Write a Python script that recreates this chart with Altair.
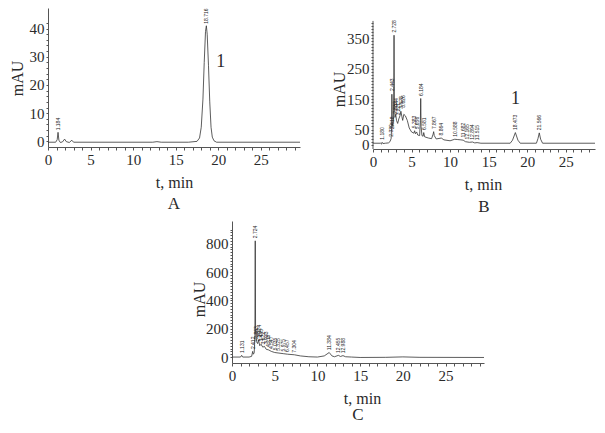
import altair as alt
import pandas as pd

# ---------------- data ----------------
# Panel A (reference standard)
tA = [0, 0.9, 1.08, 1.18, 1.28, 1.45, 1.7, 1.95, 2.15, 2.5, 2.8, 3.0, 12.3, 12.8, 13.3, 16.5,
      17.5, 17.8, 18.0, 18.2, 18.35, 18.5, 18.6, 18.7, 18.85, 19.0, 19.15, 19.3, 19.5, 19.8, 29.6]
vA = [-0.3, -0.3, 0.6, 3.2, 0.4, -0.4, -0.2, 0.8, -0.1, -0.4, 0.4, -0.3, -0.3, -0.1, -0.3, -0.3,
      0.0, 1.2, 5, 15, 28, 39, 41, 38, 27, 14, 5, 1.5, 0.2, -0.3, -0.3]
peakA_t = [1.18, 18.6]
peakA_v = [3.2, 41]
peakA_lab = ["1.184", "18.716"]

# Panel B (sample)
tB = [0, 1.0, 1.12, 1.18, 1.3, 1.6, 2.0, 2.2, 2.35, 2.42, 2.45, 2.5, 2.58, 2.65, 2.7, 2.73, 2.77,
      2.85, 2.95, 3.05, 3.2, 3.35, 3.5, 3.62, 3.75, 3.85, 4.0, 4.2, 4.45, 4.7, 5.0, 5.3, 5.4, 5.5,
      5.66, 5.8, 6.05, 6.15, 6.19, 6.24, 6.35, 6.5, 6.58, 6.7, 7.2, 7.6, 7.8, 7.87, 7.95, 8.2, 8.86,
      9.2, 10.0, 10.6, 11.0, 11.4, 11.7, 12.0, 12.5, 12.9, 13.2, 13.5, 14.0, 17.8, 18.1, 18.47, 18.8,
      19.1, 21.2, 21.4, 21.57, 21.75, 22.0, 28.8]
vB = [5, 5, 2, 8, 4, 5, 6, 10, 20, 60, 166, 70, 60, 80, 200, 360, 150,
      90, 100, 80, 70, 85, 95, 110, 92, 80, 100, 95, 80, 55, 42, 38, 46, 36,
      42, 32, 30, 80, 152, 60, 30, 28, 40, 26, 22, 20, 35, 43, 30, 19, 22,
      16, 13, 18, 17, 16, 15, 10, 8, 9, 6, 7, 5, 5, 15, 40, 15,
      5, 5, 20, 39, 18, 5, 5]
peakB_t = [1.18, 2.34, 2.42, 2.45, 2.73, 2.85, 2.95, 3.25, 3.62, 3.85, 5.38, 5.66, 6.19, 6.58,
           7.87, 8.86, 10.6, 11.7, 12.17, 12.9, 13.5, 18.47, 21.57]
peakB_v = [10, 20, 45, 170, 362, 95, 105, 90, 112, 115, 48, 44, 154, 42,
           45, 24, 20, 17, 11, 10, 8, 42, 41]
peakB_lab = ["1.180", "2.339", "2.418", "2.443", "2.728", "2.832", "2.944", "3.221", "3.628",
             "3.826", "5.383", "5.656", "6.184", "6.581", "7.867", "8.864", "10.588", "11.682",
             "12.165", "12.894", "13.515", "18.473", "21.566"]

# Panel C (blank / other)
tC = [0, 1.0, 1.13, 1.25, 2.0, 2.3, 2.42, 2.5, 2.6, 2.68, 2.72, 2.76, 2.85, 3.0, 3.1, 3.25, 3.4,
      3.6, 3.8, 4.0, 4.3, 4.6, 5.0, 5.5, 6.0, 6.5, 7.3, 8.0, 9.0, 10.0, 10.8, 11.38, 11.7, 12.0,
      12.45, 12.7, 12.99, 13.3, 14.0, 15.0, 18.0, 20.0, 22.0, 29.5]
vC = [0, 0, 12, 0, 0, 5, 40, 20, 30, 150, 820, 200, 110, 95, 120, 80, 90,
      70, 75, 55, 50, 40, 32, 28, 24, 20, 16, 8, 2, 0, 8, 32, 8, 2,
      12, 4, 10, 2, 0, -3, -2, 1, -2, -3]
peakC_t = [1.13, 2.42, 2.72, 2.86, 2.99, 3.12, 3.43, 3.67, 3.93, 4.2, 4.55, 5.03, 5.33, 5.98,
           6.46, 7.3, 11.38, 12.45, 12.99]
peakC_v = [14, 42, 825, 115, 100, 125, 95, 75, 78, 56, 42, 34, 30, 25, 21, 17, 34, 14, 12]
peakC_lab = ["1.131", "2.412", "2.724", "2.863", "2.987", "3.124", "3.435", "3.672", "3.933",
             "4.218", "4.547", "5.035", "5.325", "5.975", "6.457", "7.304", "11.384", "12.455",
             "12.988"]

# axis tick marks and labelled ticks
xlabs = [0, 5, 10, 15, 20, 25]
yticksA = list(range(0, 43, 2))
ylabsA = [0, 10, 20, 30, 40]
yticksB = list(range(0, 401, 10))
ylabsB = [0, 50, 150, 250, 350]
yticksC = list(range(0, 901, 20))
ylabsC = [0, 200, 400, 600, 800]

# compound annotation "1"
ann_A = {"t": [20.3], "v": [28], "s": ["1"]}
ann_B = {"t": [18.5], "v": [150], "s": ["1"]}

SERIF = "Liberation Serif"
INK = "#2a2a2a"


def lab_expr(vals):
    return "indexof([" + ",".join(str(v) for v in vals) + "], datum.value) >= 0 ? datum.label : ''"


def panel(t, v, pt, pv, plab, xdom, ydom, w, h, yticks, ylabs, ytitlex, ytitley,
          xtitlex, xtitley, letter, letter_off, ann=None, axisline=None):
    trace = pd.DataFrame({"t": t, "v": v})
    peaks = pd.DataFrame({"t": pt, "v": pv, "lab": plab})
    xscale = alt.Scale(domain=xdom, nice=False, zero=False)
    yscale = alt.Scale(domain=ydom, nice=False, zero=False)
    xaxis = alt.Axis(values=list(range(0, int(xdom[1]) + 1)), labelExpr=lab_expr(xlabs),
                     tickSize=3, labelFlush=False, labelOverlap=False, grid=False,
                     title="t, min", titleX=xtitlex, titleY=xtitley, titleBaseline="middle",
                     titleAlign="center")
    yaxis = alt.Axis(values=yticks, labelExpr=lab_expr(ylabs), tickSize=2,
                     labelOverlap=False, labelFlush=False, grid=False, title="mAU",
                     titleX=ytitlex, titleY=ytitley, titleBaseline="middle",
                     titleAlign="center", titleAngle=270, domain=axisline is None)
    X = alt.X("t:Q", scale=xscale, axis=xaxis)
    Y = alt.Y("v:Q", scale=yscale, axis=yaxis)
    line = alt.Chart(trace).mark_line(color="#333333", strokeWidth=0.8).encode(x=X, y=Y)
    labels = alt.Chart(peaks).mark_text(
        angle=270, align="left", baseline="middle", dx=2, fontSize=5,
        font="Liberation Sans", color="#222222"
    ).encode(x=X, y=Y, text="lab:N")
    layers = [line, labels]
    if ann is not None:
        a = pd.DataFrame(ann)
        layers.append(alt.Chart(a).mark_text(font=SERIF, fontSize=18, color=INK).encode(
            x=X, y=Y, text="s:N"))
    if axisline is not None:
        r = pd.DataFrame({"t": [0.0], "v": [axisline[0]], "v1": [axisline[1]]})
        layers.append(alt.Chart(r).mark_rule(color="#555555", strokeWidth=1).encode(
            x=X, y=Y, y2="v1:Q"))
    return alt.layer(*layers).properties(
        width=w, height=h,
        title=alt.TitleParams(letter, orient="bottom", anchor="middle", font=SERIF,
                              fontSize=17, fontWeight="normal", color=INK,
                              offset=letter_off),
    )


A = panel(tA, vA, peakA_t, peakA_v, peakA_lab, [0, 29.6], [-2, 47.3], 252, 139,
          yticksA, ylabsA, -31, 70, 126, 35, "A", 6, ann=ann_A)
B = panel(tB, vB, peakB_t, peakB_v, peakB_lab, [0, 28.8], [-14, 449.5], 222, 141,
          yticksB, ylabsB, -34, 81, 110, 35, "B", 7, ann=ann_B, axisline=[-14, 407])
C = panel(tC, vC, peakC_t, peakC_v, peakC_lab, [0, 29.5], [-42, 960], 252, 142,
          yticksC, ylabsC, -33, 78, 130, 35, "C", 1)

spacer = alt.Chart(pd.DataFrame({"a": [0]})).mark_point(opacity=0).encode(
    x=alt.value(0), y=alt.value(0)).properties(width=143, height=10)

row1 = alt.hconcat(A, B, spacing=29)
row2 = alt.hconcat(spacer, C, spacing=0)
chart = alt.vconcat(row1, row2, spacing=3).properties(
    padding={"left": 1, "top": 0, "right": 0, "bottom": 0}
).configure_view(stroke=None).configure_axis(
    labelFont=SERIF, labelFontSize=15, labelColor=INK, labelPadding=2,
    titleFont=SERIF, titleFontSize=16, titleFontWeight="normal", titleColor=INK,
    domainColor="#555555", tickColor="#555555", domainWidth=1, tickWidth=1,
)

chart.save("out.html", embed_options={"renderer": "svg", "actions": False})
